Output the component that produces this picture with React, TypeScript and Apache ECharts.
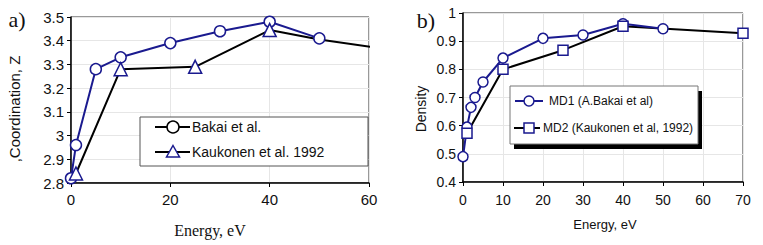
import React, { useEffect, useRef } from "react";
import * as echarts from "echarts";

// Panel a) Coordination Z vs energy
const aBakaiEnergy = [0, 1, 5, 10, 20, 30, 40, 50];
const aBakaiZ = [2.82, 2.96, 3.28, 3.33, 3.39, 3.44, 3.48, 3.41];
const aKaukEnergy = [1, 10, 25, 40, 50, 70];
const aKaukZ = [2.84, 3.28, 3.29, 3.445, 3.405, 3.345];
const aKaukMarker = [true, true, true, true, false, false];
const aLegend = ["Bakai et al.", "Kaukonen et al. 1992"];

// Panel b) Density vs energy
const bMd1Energy = [0, 1, 2, 3, 5, 10, 20, 30, 40, 50];
const bMd1Density = [0.49, 0.595, 0.665, 0.7, 0.755, 0.84, 0.91, 0.922, 0.962, 0.944];
const bMd2Energy = [1, 10, 25, 40, 70];
const bMd2Density = [0.573, 0.8, 0.868, 0.953, 0.928];
const bLegend = ["MD1 (A.Bakai et al)", "MD2 (Kaukonen et al, 1992)"];

const NAVY = "#1a1a8f";
const SANS = "'Liberation Sans', Arial, sans-serif";
const SERIF = "'Liberation Serif', 'Times New Roman', serif";

const zip = (xs: number[], ys: number[]) => xs.map((x, i) => [x, ys[i]]);

function axisCommon(fontSize: number, margin: number) {
  return {
    type: "value" as const,
    axisLine: { show: true, onZero: false, lineStyle: { color: "#000", width: 1.5 } },
    axisTick: { show: true, inside: false, length: 4, lineStyle: { color: "#000" } },
    axisLabel: { fontSize, color: "#111", fontFamily: SANS, margin },
    splitLine: { show: true, lineStyle: { color: "#e6e6e6", width: 1 } },
  };
}

export default function App() {
  const ref = useRef<HTMLDivElement>(null);
  useEffect(() => {
    if (!ref.current) return;
    const chart = echarts.init(ref.current, undefined, { renderer: "svg" });
    const markerStyle = { color: "#fff", borderColor: NAVY, borderWidth: 1.5, opacity: 1 };
    const option: any = {
      animation: false,
      backgroundColor: "#fff",
      grid: [
        { left: 71, top: 17, width: 298, height: 166, show: true, borderColor: "#333", borderWidth: 1, backgroundColor: "transparent" },
        { left: 463, top: 13, width: 280, height: 169, show: true, borderColor: "#333", borderWidth: 1, backgroundColor: "transparent" },
      ],
      xAxis: [
        { ...axisCommon(15, 9), gridIndex: 0, min: 0, max: 60, interval: 20 },
        { ...axisCommon(14, 11), gridIndex: 1, min: 0, max: 70, interval: 10 },
      ],
      yAxis: [
        { ...axisCommon(15, 7), gridIndex: 0, min: 2.8, max: 3.5, interval: 0.1 },
        { ...axisCommon(14, 7), gridIndex: 1, min: 0.4, max: 1, interval: 0.1 },
      ],
      series: [
        // panel a
        {
          name: aLegend[1] + " line",
          type: "line",
          xAxisIndex: 0,
          yAxisIndex: 0,
          data: zip(aKaukEnergy, aKaukZ),
          showSymbol: false,
          symbol: "none",
          lineStyle: { color: "#000", width: 2 },
          clip: true,
          z: 2,
        },
        {
          name: aLegend[0],
          type: "line",
          xAxisIndex: 0,
          yAxisIndex: 0,
          data: zip(aBakaiEnergy, aBakaiZ),
          symbol: "circle",
          symbolSize: 11,
          itemStyle: markerStyle,
          lineStyle: { color: NAVY, width: 2 },
          z: 3,
        },
        {
          name: aLegend[1],
          type: "scatter",
          xAxisIndex: 0,
          yAxisIndex: 0,
          data: zip(aKaukEnergy, aKaukZ).filter((_, i) => aKaukMarker[i]),
          symbol: "triangle",
          symbolSize: 13,
          itemStyle: markerStyle,
          z: 4,
        },
        // panel b
        {
          name: bLegend[1] + " line",
          type: "line",
          xAxisIndex: 1,
          yAxisIndex: 1,
          data: zip(bMd2Energy, bMd2Density),
          showSymbol: false,
          symbol: "none",
          lineStyle: { color: "#000", width: 2 },
          z: 2,
        },
        {
          name: bLegend[0],
          type: "line",
          xAxisIndex: 1,
          yAxisIndex: 1,
          data: zip(bMd1Energy, bMd1Density),
          symbol: "circle",
          symbolSize: 10,
          itemStyle: markerStyle,
          lineStyle: { color: NAVY, width: 2 },
          z: 3,
        },
        {
          name: bLegend[1],
          type: "scatter",
          xAxisIndex: 1,
          yAxisIndex: 1,
          data: zip(bMd2Energy, bMd2Density),
          symbol: "rect",
          symbolSize: 10,
          itemStyle: markerStyle,
          z: 4,
        },
      ],
      graphic: [
        // panel labels
        { type: "text", x: 17, y: 19, z: 10, style: { text: "a)", font: `22px ${SERIF}`, fill: "#111", textAlign: "center", textVerticalAlign: "middle" } },
        { type: "text", x: 426, y: 20, z: 10, style: { text: "b)", font: `22px ${SERIF}`, fill: "#111", textAlign: "center", textVerticalAlign: "middle" } },
        // axis titles
        { type: "text", x: 14, y: 109, rotation: Math.PI / 2, z: 10, style: { text: ",Coordination, Z", font: `15px ${SANS}`, fill: "#111", textAlign: "center", textVerticalAlign: "middle" } },
        { type: "text", x: 210, y: 230, z: 10, style: { text: "Energy, eV", font: `16px ${SERIF}`, fill: "#111", textAlign: "center", textVerticalAlign: "middle" } },
        { type: "text", x: 421, y: 109, rotation: Math.PI / 2, z: 10, style: { text: "Density", font: `14px ${SANS}`, fill: "#111", textAlign: "center", textVerticalAlign: "middle" } },
        { type: "text", x: 605, y: 224, z: 10, style: { text: "Energy, eV", font: `13px ${SANS}`, fill: "#111", textAlign: "center", textVerticalAlign: "middle" } },
        // legend a
        { type: "rect", z: 10, shape: { x: 140, y: 117, width: 228, height: 49 }, style: { fill: "#fff", stroke: "#555", lineWidth: 1 } },
        { type: "line", z: 11, shape: { x1: 155, y1: 127, x2: 190, y2: 127 }, style: { stroke: "#000", lineWidth: 2 } },
        { type: "circle", z: 12, shape: { cx: 173, cy: 127, r: 6 }, style: { fill: "#fff", stroke: "#000", lineWidth: 1.5 } },
        { type: "text", z: 12, x: 192, y: 127, style: { text: aLegend[0], font: `14px ${SANS}`, fill: "#111", textVerticalAlign: "middle" } },
        { type: "line", z: 11, shape: { x1: 155, y1: 152, x2: 190, y2: 152 }, style: { stroke: "#000", lineWidth: 2 } },
        { type: "polygon", z: 12, shape: { points: [[173, 145.5], [179.5, 157], [166.5, 157]] }, style: { fill: "#fff", stroke: NAVY, lineWidth: 1.5 } },
        { type: "text", z: 12, x: 192, y: 152, style: { text: aLegend[1], font: `14px ${SANS}`, fill: "#111", textVerticalAlign: "middle" } },
        // legend b
        { type: "rect", z: 10, shape: { x: 514, y: 91, width: 188, height: 58 }, style: { fill: "#000" } },
        { type: "rect", z: 11, shape: { x: 510, y: 86, width: 188, height: 58 }, style: { fill: "#fff", stroke: "#777", lineWidth: 1 } },
        { type: "line", z: 12, shape: { x1: 515, y1: 101, x2: 543, y2: 101 }, style: { stroke: NAVY, lineWidth: 2 } },
        { type: "circle", z: 13, shape: { cx: 529, cy: 101, r: 5 }, style: { fill: "#fff", stroke: NAVY, lineWidth: 1.5 } },
        { type: "text", z: 13, x: 549, y: 101, style: { text: bLegend[0], font: `12px ${SANS}`, fill: "#111", textVerticalAlign: "middle" } },
        { type: "line", z: 12, shape: { x1: 514, y1: 128, x2: 540, y2: 128 }, style: { stroke: "#000", lineWidth: 2 } },
        { type: "rect", z: 13, shape: { x: 524, y: 123, width: 10, height: 10 }, style: { fill: "#fff", stroke: NAVY, lineWidth: 1.5 } },
        { type: "text", z: 13, x: 543, y: 128, style: { text: bLegend[1], font: `12px ${SANS}`, fill: "#111", textVerticalAlign: "middle" } },
      ],
    };
    chart.setOption(option);
    return () => chart.dispose();
  }, []);
  return <div ref={ref} style={{ position: "absolute", left: 0, top: 0, width: 763, height: 245 }} />;
}
